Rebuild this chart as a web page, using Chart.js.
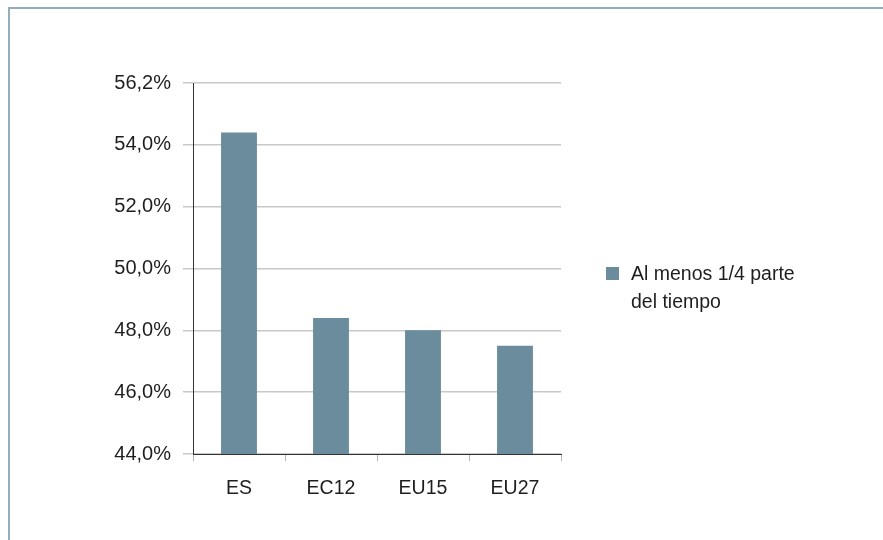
<!DOCTYPE html>
<html lang="es">
<head>
    <meta charset="UTF-8">
    <title>Al menos 1/4 parte del tiempo</title>
    <script src="https://cdn.jsdelivr.net/npm/chart.js"></script>
    <style>
        body {
            margin: 0;
            background-color: #ffffff;
            font-family: "Liberation Sans", Arial, sans-serif;
        }
        .wrap {
            position: relative;
            width: 883px;
            height: 540px;
            overflow: hidden;
        }
        .frame {
            position: absolute;
            left: 8px;
            top: 7px;
            width: 900px;
            height: 560px;
            border-top: 2px solid #93adbc;
            border-left: 2px solid #93adbc;
        }
        canvas {
            position: absolute;
            left: 0;
            top: 0;
        }
    </style>
</head>
<body>
    <div class="wrap">
        <div class="frame"></div>
        <canvas id="barChart" width="883" height="540"></canvas>
    </div>

    <script>
        const categories = ['ES', 'EC12', 'EU15', 'EU27'];
        const seriesName = ['Al menos 1/4 parte', 'del tiempo'];
        const seriesValues = [54.4, 48.4, 48.0, 47.5];
        const yTickLabels = ['44,0%', '46,0%', '48,0%', '50,0%', '52,0%', '54,0%', '56,2%'];

        const BAR_COLOR = '#6a8c9d';
        const TEXT_COLOR = '#1e1e1e';
        const FONT = '"Liberation Sans", Arial, sans-serif';

        // Legend on the right, with its label split over two lines
        const sideLegend = {
            id: 'sideLegend',
            afterDraw(chart) {
                const ctx = chart.ctx;
                const ds = chart.data.datasets[0];
                ctx.save();
                ctx.fillStyle = ds.backgroundColor;
                ctx.fillRect(606, 267, 13, 13);
                ctx.fillStyle = TEXT_COLOR;
                ctx.font = '19.5px ' + FONT;
                ctx.textAlign = 'left';
                ctx.textBaseline = 'alphabetic';
                ds.label.forEach((line, i) => {
                    ctx.fillText(line, 631, 280 + i * 28);
                });
                ctx.restore();
            }
        };

        function initChart() {
            const ctx = document.getElementById('barChart').getContext('2d');
            new Chart(ctx, {
                type: 'bar',
                data: {
                    labels: categories,
                    datasets: [{
                        label: seriesName,
                        data: seriesValues,
                        backgroundColor: BAR_COLOR,
                        barPercentage: 0.39,
                        categoryPercentage: 1.0
                    }]
                },
                options: {
                    responsive: false,
                    animation: false,
                    layout: {
                        padding: { top: 83, right: 322, bottom: 0, left: 0 }
                    },
                    plugins: {
                        legend: { display: false },
                        tooltip: { enabled: false }
                    },
                    scales: {
                        x: {
                            grid: {
                                drawOnChartArea: false,
                                drawTicks: true,
                                tickLength: 7,
                                color: '#b4b4b4'
                            },
                            border: { color: '#333333', width: 1 },
                            ticks: {
                                color: TEXT_COLOR,
                                padding: 16,
                                font: { family: FONT, size: 19.5 }
                            },
                            afterFit(scale) { scale.height = 86; }
                        },
                        y: {
                            min: 44,
                            max: 56,
                            grid: {
                                color: '#c8c8c8',
                                lineWidth: 1.5,
                                tickLength: 10
                            },
                            border: { color: '#333333', width: 1 },
                            ticks: {
                                stepSize: 2,
                                color: TEXT_COLOR,
                                padding: 12,
                                font: { family: FONT, size: 20 },
                                callback: (value, index) => yTickLabels[index]
                            },
                            afterFit(scale) { scale.width = 193; }
                        }
                    }
                },
                plugins: [sideLegend]
            });
        }

        document.addEventListener('DOMContentLoaded', initChart);
    </script>
</body>
</html>
